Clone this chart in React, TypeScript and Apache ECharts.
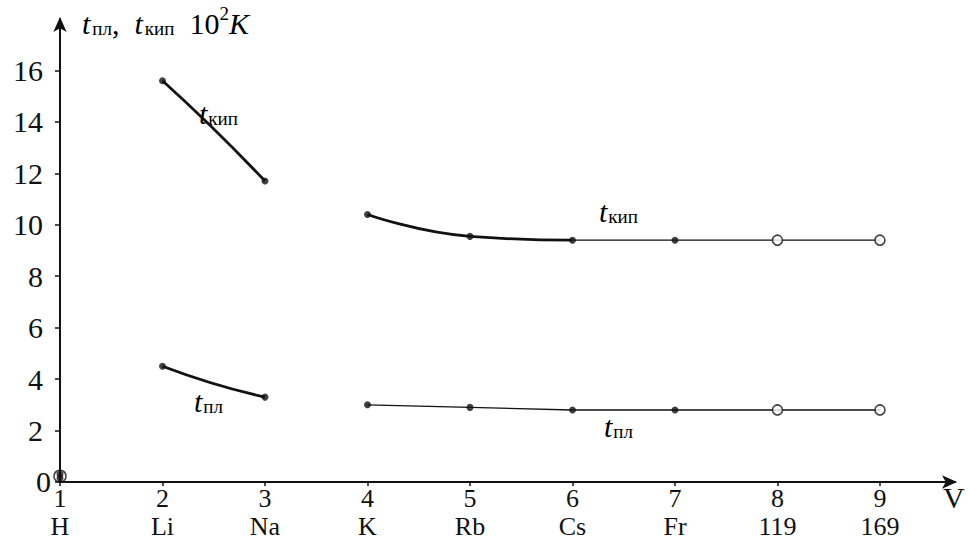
import React, { useEffect, useRef } from "react";
import * as echarts from "echarts";

// Alkali-metal group: melting and boiling temperatures, in hundreds of kelvin
const elementNumbers = [1, 2, 3, 4, 5, 6, 7, 8, 9];
const elementSymbols = ["H", "Li", "Na", "K", "Rb", "Cs", "Fr", "119", "169"];
const boilingPoints = [0.3, 15.6, 11.7, 10.4, 9.55, 9.4, 9.4, 9.4, 9.4];
const meltingPoints = [0.15, 4.5, 3.3, 3.0, 2.9, 2.8, 2.8, 2.8, 2.8];
const isPredicted = [false, false, false, false, false, false, false, true, true];
const yTickValues = [0, 2, 4, 6, 8, 10, 12, 14, 16];
const yLabelValues = [2, 4, 6, 8, 10, 12, 14, 16];

const FONT = "Liberation Serif";
const INK = "#111";

const pick = (values: number[], idx: number[]) =>
  idx.map((i) => [elementNumbers[i], values[i]]);

// Rich-text styles for "t" with a Cyrillic subscript
const richT = {
  t: { fontFamily: FONT, fontStyle: "italic", fontSize: 30, lineHeight: 34, color: INK, verticalAlign: "bottom" },
  s: { fontFamily: FONT, fontSize: 19, lineHeight: 14, color: INK, verticalAlign: "bottom", padding: [0, 0, 0, 1] },
  h: { fontFamily: FONT, fontSize: 19, lineHeight: 22, color: INK, verticalAlign: "bottom", padding: [0, 0, 0, 2] },
  p: { fontFamily: FONT, fontSize: 30, lineHeight: 34, color: INK, verticalAlign: "bottom" },
  sup: { fontFamily: FONT, fontSize: 19, lineHeight: 34, color: INK, verticalAlign: "top" },
  k: { fontFamily: FONT, fontStyle: "italic", fontSize: 30, lineHeight: 34, color: INK, verticalAlign: "bottom" },
};

const tLabel = (sub: string) => `{t|t}{s|${sub}}`;
const tTitle = (sub: string) => `{t|t}{h|${sub}}`;

// Quadratic curve between two data points; `bow` shifts the midpoint vertically (px)
function curveSeries(points: number[][], bow: number) {
  const [a, b] = points;
  return {
    type: "custom",
    data: [[a[0], a[1], b[0], b[1]]],
    encode: { x: [0, 2], y: [1, 3] },
    z: 3,
    silent: true,
    renderItem: (_params: any, api: any) => {
      const p1 = api.coord([api.value(0), api.value(1)]);
      const p2 = api.coord([api.value(2), api.value(3)]);
      const cx = (p1[0] + p2[0]) / 2;
      const cy = (p1[1] + p2[1]) / 2 + 2 * bow;
      return {
        type: "bezierCurve",
        shape: { x1: p1[0], y1: p1[1], x2: p2[0], y2: p2[1], cpx1: cx, cpy1: cy },
        style: { stroke: INK, lineWidth: 2.8, fill: null },
      };
    },
  };
}

function lineSeries(data: number[][], width: number, smooth: number) {
  return {
    type: "line",
    data,
    smooth,
    symbol: "none",
    z: 3,
    silent: true,
    lineStyle: { color: INK, width },
  };
}

function pointSeries(values: number[], predicted: boolean) {
  const idx = elementNumbers.map((_, i) => i).filter((i) => isPredicted[i] === predicted);
  return {
    type: "scatter",
    data: pick(values, idx),
    symbol: "circle",
    symbolSize: predicted ? 10 : 7,
    z: 5,
    silent: true,
    itemStyle: predicted
      ? { color: "#fff", borderColor: INK, borderWidth: 1.6 }
      : { color: INK },
  };
}

export default function App() {
  const ref = useRef<HTMLDivElement>(null);

  useEffect(() => {
    if (!ref.current) return;
    const chart = echarts.init(ref.current, null, { renderer: "svg" });

    const option = {
      animation: false,
      backgroundColor: "#fff",
      textStyle: { fontFamily: FONT },
      grid: { left: 60, right: 15, top: 19, bottom: 60, containLabel: false },
      xAxis: {
        type: "value",
        min: 1,
        max: 9.732,
        splitLine: { show: false },
        axisLine: {
          onZero: false,
          lineStyle: { color: INK, width: 2 },
          symbol: ["none", "arrow"],
          symbolSize: [10, 15],
          symbolOffset: [0, 2],
        },
        axisTick: { show: true, customValues: elementNumbers, length: 4, lineStyle: { color: INK, width: 1.5 } },
        axisLabel: {
          customValues: elementNumbers,
          margin: 2,
          color: INK,
          fontFamily: FONT,
          fontSize: 26,
          lineHeight: 28,
          formatter: (v: number) => `${v}\n${elementSymbols[v - 1]}`,
        },
      },
      yAxis: {
        type: "value",
        min: 0,
        max: 18,
        splitLine: { show: false },
        axisLine: {
          onZero: false,
          lineStyle: { color: INK, width: 2 },
          symbol: ["none", "arrow"],
          symbolSize: [10, 15],
          symbolOffset: [0, 2],
        },
        axisTick: { show: true, customValues: yTickValues, length: 5, lineStyle: { color: INK, width: 1.5 } },
        axisLabel: {
          customValues: yLabelValues,
          margin: 17,
          color: INK,
          fontFamily: FONT,
          fontSize: 30,
        },
      },
      series: [
        // boiling temperature
        curveSeries(pick(boilingPoints, [1, 2]), -2),
        lineSeries(pick(boilingPoints, [3, 4, 5]), 2.8, 0.5),
        lineSeries(pick(boilingPoints, [5, 6, 7, 8]), 1.2, 0),
        // melting temperature
        curveSeries(pick(meltingPoints, [1, 2]), 2),
        lineSeries(pick(meltingPoints, [3, 4, 5, 6, 7, 8]), 1.3, 0),
        // points
        pointSeries(boilingPoints, false),
        pointSeries(meltingPoints, false),
        pointSeries(boilingPoints, true),
        pointSeries(meltingPoints, true),
        {
          type: "scatter",
          data: [[elementNumbers[0], (boilingPoints[0] + meltingPoints[0]) / 2]],
          symbol: "circle",
          symbolSize: 12,
          z: 4,
          silent: true,
          itemStyle: { color: "rgba(0,0,0,0)", borderColor: INK, borderWidth: 1.5 },
        },
      ],
      graphic: [
        {
          type: "text",
          left: 82,
          top: 4,
          style: {
            text: `${tTitle("пл")}{p|,  }${tTitle("кип")}{p|  10}{sup|2}{k|K}`,
            rich: richT,
          },
        },
        { type: "text", left: 199, top: 98, style: { text: tLabel("кип"), rich: richT } },
        { type: "text", left: 599, top: 196, style: { text: tLabel("кип"), rich: richT } },
        { type: "text", left: 194, top: 386, style: { text: tLabel("пл"), rich: richT } },
        { type: "text", left: 604, top: 411, style: { text: tLabel("пл"), rich: richT } },
        {
          type: "text",
          left: 943,
          top: 482,
          style: { text: "V", fontFamily: FONT, fontSize: 30, fill: INK },
        },
        {
          type: "text",
          left: 36,
          top: 466,
          style: { text: "0", fontFamily: FONT, fontSize: 30, fill: INK },
        },
      ],
    };

    chart.setOption(option as any);
    return () => chart.dispose();
  }, []);

  return (
    <div
      ref={ref}
      style={{ position: "fixed", left: 0, top: 0, width: 970, height: 542, background: "#fff" }}
    />
  );
}
